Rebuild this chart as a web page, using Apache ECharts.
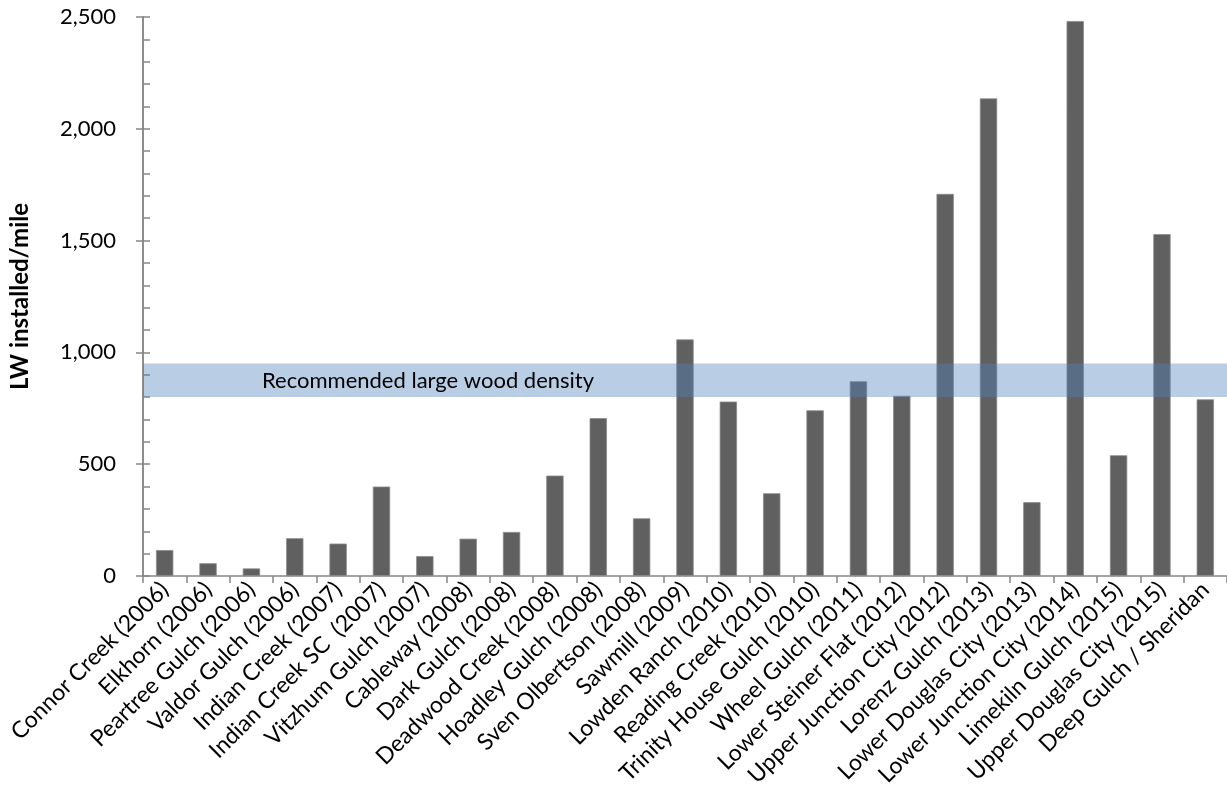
<!DOCTYPE html>
<html>
<head>
<meta charset="utf-8">
<script src="https://cdn.jsdelivr.net/npm/echarts@6/dist/echarts.min.js"></script>
<style>
html,body{margin:0;padding:0;background:#fff;}
#chart{width:1227px;height:801px;}
</style>
</head>
<body>
<div id="chart"></div>
<script>
const categories = [
  "Connor Creek (2006)", "Elkhorn (2006)", "Peartree Gulch (2006)", "Valdor Gulch (2006)",
  "Indian Creek (2007)", "Indian Creek SC  (2007)", "Vitzhum Gulch (2007)", "Cableway (2008)",
  "Dark Gulch (2008)", "Deadwood Creek (2008)", "Hoadley Gulch (2008)", "Sven Olbertson (2008)",
  "Sawmill (2009)", "Lowden Ranch (2010)", "Reading Creek (2010)", "Trinity House Gulch (2010)",
  "Wheel Gulch (2011)", "Lower Steiner Flat (2012)", "Upper Junction City (2012)", "Lorenz Gulch (2013)",
  "Lower Douglas City (2013)", "Lower Junction City (2014)", "Limekiln Gulch (2015)",
  "Upper Douglas City (2015)", "Deep Gulch / Sheridan"
];
const lwPerMile = [
  116, 57, 34, 169, 145, 400, 89, 167, 197, 449, 706, 258,
  1058, 780, 370, 741, 871, 806, 1709, 2136, 330, 2482, 540, 1529, 790
];
const bandRange = [800, 950];
const bandLabel = "Recommended large wood density";
const yTicks = { min: 0, max: 2500, interval: 500 };
const yAxisName = "LW installed/mile";

const FONT = "Lato";
const axisGray = "#868686";

const chart = echarts.init(document.getElementById('chart'), null, {renderer: 'canvas'});
chart.setOption({
  backgroundColor: '#ffffff',
  animation: false,
  textStyle: { fontFamily: FONT },
  grid: { left: 140, top: 17, width: 1092, height: 559, containLabel: false },
  xAxis: {
    type: 'category',
    data: categories,
    axisLine: { lineStyle: { color: axisGray, width: 1.5 } },
    axisTick: { show: true, length: 7, lineStyle: { color: axisGray, width: 1.5 } },
    axisLabel: { rotate: 45, margin: 10, color: '#000', fontSize: 23, fontFamily: FONT, interval: 0 },
    splitLine: { show: false }
  },
  yAxis: [
    {
      type: 'value',
      min: yTicks.min, max: yTicks.max, interval: yTicks.interval,
      name: yAxisName,
      nameLocation: 'middle',
      nameGap: 111,
      nameRotate: 90,
      nameTextStyle: { fontWeight: 'bold', fontSize: 24, color: '#000', fontFamily: FONT },
      axisLine: { show: true, lineStyle: { color: axisGray, width: 1.5 } },
      axisTick: { show: true, length: 7, lineStyle: { color: axisGray, width: 1.5 } },
      axisLabel: {
        color: '#000', fontSize: 22, margin: 27, fontFamily: FONT,
        formatter: v => v.toLocaleString('en-US')
      },
      splitLine: { show: false }
    },
    {
      type: 'value',
      position: 'left',
      min: yTicks.min, max: yTicks.max, interval: yTicks.interval,
      axisLine: { show: true, lineStyle: { color: axisGray, width: 1.5 } },
      axisTick: { show: true, inside: true, length: 7, lineStyle: { color: axisGray, width: 1.5 } },
      minorTick: { show: true, splitNumber: 5, length: 7, lineStyle: { color: axisGray, width: 1.5 } },
      axisLabel: { show: false },
      splitLine: { show: false }
    }
  ],
  series: [
    {
      type: 'bar',
      data: lwPerMile,
      barWidth: '40%',
      itemStyle: { color: '#606060', borderColor: '#8c8c8c', borderWidth: 0.8 },
      z: 2
    },
    {
      type: 'line',
      data: [],
      z: 5,
      markArea: {
        silent: true,
        z: 10,
        itemStyle: { color: 'rgba(79,129,189,0.4)' },
        label: {
          show: true,
          position: [119, 17],
          align: 'left',
          verticalAlign: 'middle',
          color: '#000',
          fontSize: 22,
          fontFamily: FONT
        },
        data: [[{ yAxis: bandRange[0], name: bandLabel }, { yAxis: bandRange[1] }]]
      }
    }
  ]
});
</script>
</body>
</html>
